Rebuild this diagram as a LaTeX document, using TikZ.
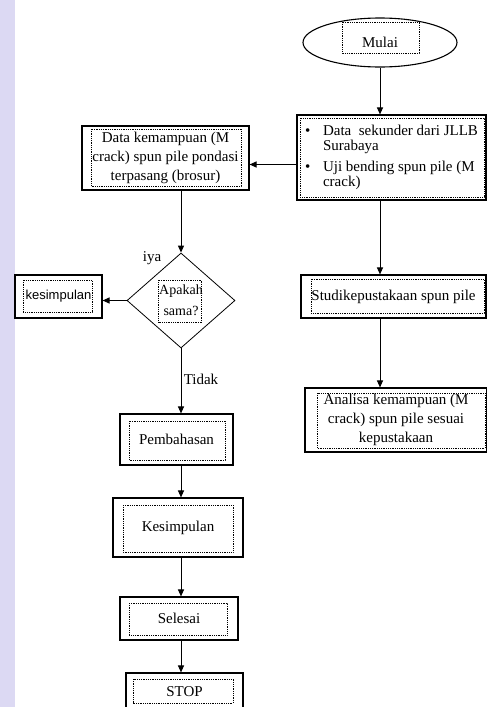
\documentclass[tikz,border=0pt]{standalone}
\usepackage{fontspec}
\setmainfont{Liberation Serif}
\newfontfamily\sansfont{Liberation Sans}
\usetikzlibrary{shapes.geometric,arrows.meta}

\definecolor{wmark}{RGB}{220,217,243}

\tikzset{
    flowbox/.style={draw, line width=1.1pt, align=center, inner sep=0pt, font=\fontsize{15}{19}\selectfont},
    dotbox/.style n args={4}{path picture={\draw [densely dotted, line width=0.8pt] ([shift={(#1pt,-#2pt)}]path picture bounding box.north west) rectangle ([shift={(-#3pt,#4pt)}]path picture bounding box.south east);}},
    flow/.style={line width=1pt, -{Triangle[length=7pt,width=6pt]}},
    lbl/.style={font=\fontsize{15}{18}\selectfont}
}

\begin{document}
\begin{tikzpicture}[x=1pt, y=-1pt]
        \useasboundingbox (0,0) rectangle (487,707);
        \fill [wmark] (0,0) rectangle (15,707);

        % right column
        \node [flowbox, ellipse, minimum width=154pt, minimum height=49pt, dotbox={39}{4}{38}{14}] (mulai) at (380,42.5) {Mulai};
        \node [flowbox, align=left, font=\fontsize{15}{15.5}\selectfont, minimum width=189pt, minimum height=85pt, dotbox={3}{3}{2}{3}] (sekunder) at (391.5,157.5) {\makebox[18pt][l]{\textbullet}Data\ \ sekunder dari JLLB\\ \hspace*{18pt}Surabaya\\[5pt] \makebox[18pt][l]{\textbullet}Uji bending spun pile (M\\ \hspace*{18pt}crack)};
        \node [flowbox, minimum width=185pt, minimum height=43pt, dotbox={10}{4}{2}{5}] (studi) at (393.5,296.5) {Studikepustakaan spun pile};
        \node [flowbox, minimum width=182pt, minimum height=64pt, dotbox={12}{5}{2}{4}] (analisa) at (396,420) {Analisa kemampuan (M\\ crack) spun pile sesuai\\ kepustakaan};

        % left column
        \node [flowbox, minimum width=167pt, minimum height=64pt, dotbox={9}{3}{8}{4}] (datak) at (165.5,158) {Data kemampuan (M\\ crack) spun pile pondasi\\ terpasang (brosur)};
        \node [flowbox, diamond, line width=0.8pt, font=\fontsize{14}{21}\selectfont, minimum width=108pt, minimum height=95pt, dotbox={31}{27}{33}{25}] (sama) at (181,300.5) {Apakah\\ sama?};
        \node [flowbox, font=\sansfont\fontsize{13}{15}\selectfont, minimum width=87pt, minimum height=43pt, dotbox={8}{5}{10}{6}] (kesim) at (58.5,296.5) {kesimpulan};
        \node [flowbox, minimum width=113pt, minimum height=51pt, dotbox={9}{7}{8}{5}] (bahas) at (176.5,439.5) {Pembahasan};
        \node [flowbox, minimum width=130pt, minimum height=59pt, dotbox={10}{7}{10}{5}] (kesimpulan) at (178,527.5) {Kesimpulan};
        \node [flowbox, minimum width=118pt, minimum height=43pt, dotbox={9}{6}{11}{5}] (selesai) at (179,618.5) {Selesai};
        \node [flowbox, minimum width=117pt, minimum height=37pt, dotbox={7}{6}{10}{7}] (stop) at (184.5,691.5) {STOP};

        \node [lbl] (lbliya) at (152,258) {iya};
        \node [lbl] (lbltidak) at (201,379) {Tidak};

        % connectors
        \draw [flow] (mulai.south) -- (mulai.south |- sekunder.north);
        \draw [flow] (sekunder.south -| mulai.south) -- (studi.north -| mulai.south);
        \draw [flow] (studi.south -| mulai.south) -- (analisa.north -| mulai.south);
        \draw [flow] ([yshift=-7pt]sekunder.west) -- ([yshift=-7pt]sekunder.west -| datak.east);
        \draw [flow] (datak.south -| sama.north) -- (sama.north);
        \draw [flow] (sama.west) -- (sama.west -| kesim.east);
        \draw [flow] (sama.south) -- (sama.south |- bahas.north);
        \draw [flow] (bahas.south -| sama.south) -- (kesimpulan.north -| sama.south);
        \draw [flow] (kesimpulan.south -| sama.south) -- (selesai.north -| sama.south);
        \draw [flow] (selesai.south -| sama.south) -- (stop.north -| sama.south);
    \end{tikzpicture}
\end{document}
